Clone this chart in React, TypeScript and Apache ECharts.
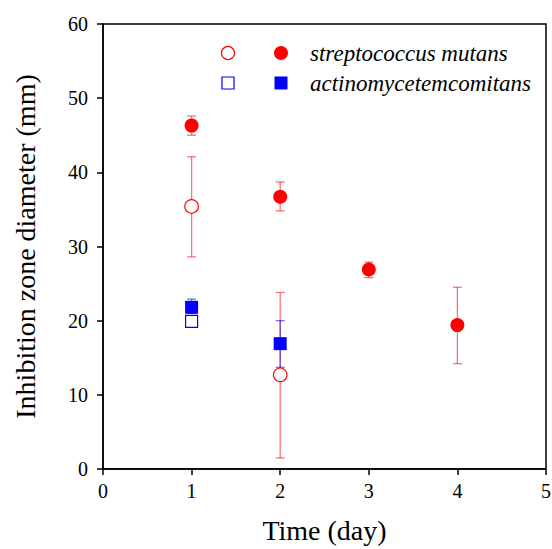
import React, { useEffect, useRef } from "react";
import * as echarts from "echarts";

const smOpen = [[1, 35.4], [2, 12.7]];
const smOpenErr = [[1, 28.6, 42.1], [2, 1.5, 23.8]];
const smFilled = [[1, 46.3], [2, 36.7], [3, 26.9], [4, 19.4]];
const smFilledErr = [[1, 45.0, 47.6], [2, 34.8, 38.7], [3, 25.8, 27.9], [4, 14.2, 24.5]];
const aaOpen = [[1, 19.9]];
const aaOpenErr = [[1, 19.4, 20.4]];
const aaFilled = [[1, 21.8], [2, 16.9]];
const aaFilledErr = [[1, 21.0, 22.9], [2, 13.7, 20.0]];
const xTicks = [0, 1, 2, 3, 4, 5];
const yTicks = [0, 10, 20, 30, 40, 50, 60];
const legendNames = ["streptococcus mutans", "actinomycetemcomitans"];

const FONT = "Liberation Serif";
const RED = "#ff0000";
const BLUE = "#0000ff";

function errSeries(data: number[][], color: string, z: number) {
  return {
    type: "custom",
    z,
    data,
    renderItem: (params: any, api: any) => {
      const x = api.value(0);
      const lo = api.coord([x, api.value(1)]);
      const hi = api.coord([x, api.value(2)]);
      const w = 4.5;
      const style = { stroke: color, lineWidth: 1.3, opacity: 0.55 };
      return {
        type: "group",
        children: [
          { type: "line", shape: { x1: lo[0], y1: lo[1], x2: hi[0], y2: hi[1] }, style },
          { type: "line", shape: { x1: lo[0] - w, y1: lo[1], x2: lo[0] + w, y2: lo[1] }, style },
          { type: "line", shape: { x1: hi[0] - w, y1: hi[1], x2: hi[0] + w, y2: hi[1] }, style },
        ],
      };
    },
  };
}

export default function App() {
  const ref = useRef<HTMLDivElement>(null);
  useEffect(() => {
    const chart = echarts.init(ref.current!, null, { renderer: "svg" });
    chart.setOption({
      animation: false,
      backgroundColor: "#ffffff",
      grid: {
        left: 103, right: 6, top: 24, bottom: 80,
        outerBoundsMode: "none", containLabel: false,
        show: true, borderColor: "#000", borderWidth: 1.5, backgroundColor: "transparent",
      },
      xAxis: {
        type: "value",
        min: xTicks[0],
        max: xTicks[xTicks.length - 1],
        interval: 1,
        name: "Time (day)",
        nameLocation: "middle",
        nameGap: 47,
        nameTextStyle: { fontFamily: FONT, fontSize: 28, color: "#000" },
        axisLine: { show: true, lineStyle: { color: "#000", width: 1.5 } },
        axisTick: { show: true, length: 6, lineStyle: { color: "#000", width: 1.5 } },
        axisLabel: { fontFamily: FONT, fontSize: 20, color: "#000", margin: 12 },
        splitLine: { show: false },
      },
      yAxis: {
        type: "value",
        min: yTicks[0],
        max: yTicks[yTicks.length - 1],
        interval: 10,
        name: "Inhibition zone diameter (mm)",
        nameLocation: "middle",
        nameGap: 64,
        nameTextStyle: { fontFamily: FONT, fontSize: 28, color: "#000" },
        axisLine: { show: true, lineStyle: { color: "#000", width: 1.5 } },
        axisTick: { show: true, length: 6, lineStyle: { color: "#000", width: 1.5 } },
        axisLabel: { fontFamily: FONT, fontSize: 20, color: "#000", margin: 15 },
        splitLine: { show: false },
      },
      series: [
        errSeries(smOpenErr, RED, 2),
        errSeries(smFilledErr, RED, 2),
        errSeries(aaOpenErr, BLUE, 2),
        errSeries(aaFilledErr, BLUE, 2),
        {
          type: "scatter", z: 3, data: smOpen, symbol: "circle", symbolSize: 13.5,
          itemStyle: { color: "#fff", borderColor: RED, borderWidth: 1.2, opacity: 1 },
        },
        {
          type: "scatter", z: 3, data: aaOpen, symbol: "rect", symbolSize: 12,
          itemStyle: { color: "#fff", borderColor: BLUE, borderWidth: 1.2, opacity: 1 },
        },
        {
          type: "scatter", z: 4, data: smFilled, symbol: "circle", symbolSize: 14,
          itemStyle: { color: RED, opacity: 1 },
        },
        {
          type: "scatter", z: 4, data: aaFilled, symbol: "rect", symbolSize: 13,
          itemStyle: { color: BLUE, opacity: 1 },
        },
      ],
      graphic: [
        { type: "circle", shape: { cx: 228, cy: 53, r: 6.5 }, style: { fill: "#fff", stroke: RED, lineWidth: 1.2 } },
        { type: "circle", shape: { cx: 281, cy: 53, r: 7 }, style: { fill: RED } },
        { type: "rect", shape: { x: 222, y: 77, width: 12, height: 12 }, style: { fill: "#fff", stroke: BLUE, lineWidth: 1.2 } },
        { type: "rect", shape: { x: 274.5, y: 76.5, width: 13, height: 13 }, style: { fill: BLUE } },
        { type: "text", x: 310, y: 53, style: { text: legendNames[0], fontFamily: FONT, fontStyle: "italic", fontSize: 23, fill: "#000", verticalAlign: "middle" } },
        { type: "text", x: 310, y: 83, style: { text: legendNames[1], fontFamily: FONT, fontStyle: "italic", fontSize: 23, fill: "#000", verticalAlign: "middle" } },
      ],
    });
    return () => chart.dispose();
  }, []);
  return <div ref={ref} style={{ position: "absolute", left: 0, top: 0, width: 552, height: 549 }} />;
}
